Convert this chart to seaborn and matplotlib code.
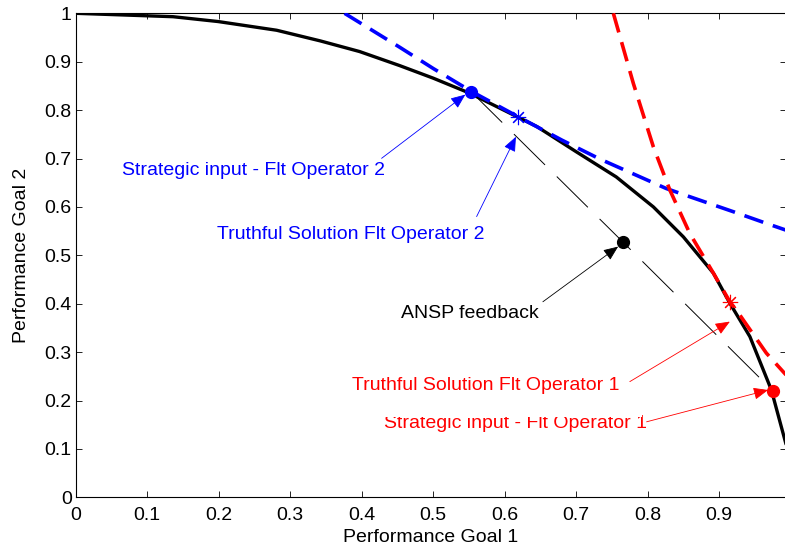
import numpy as np
import pandas as pd
import matplotlib
matplotlib.use("Agg")
import matplotlib.pyplot as plt
import seaborn as sns

# Pareto front of the two performance goals
front_x = [0.0, 0.136, 0.199, 0.281, 0.342, 0.397, 0.453, 0.500, 0.551, 0.645, 0.700,
           0.756, 0.808, 0.850, 0.892, 0.915, 0.943, 0.973, 0.9935]
front_y = [1.0, 0.993, 0.983, 0.965, 0.943, 0.921, 0.892, 0.866, 0.835, 0.766, 0.714,
           0.662, 0.600, 0.538, 0.463, 0.401, 0.332, 0.222, 0.110]

# Indifference curve of flight operator 2
op2_x = [0.376, 0.453, 0.500, 0.553, 0.618, 0.680, 0.733, 0.826, 0.859, 0.920, 0.966, 0.9935]
op2_y = [1.000, 0.930, 0.886, 0.839, 0.787, 0.738, 0.699, 0.638, 0.621, 0.590, 0.566, 0.552]

# Indifference curve of flight operator 1
op1_x = [0.752, 0.780, 0.808, 0.831, 0.859, 0.892, 0.915, 0.924, 0.966, 0.9935]
op1_y = [1.000, 0.855, 0.724, 0.635, 0.545, 0.463, 0.404, 0.387, 0.298, 0.253]

# Key solutions
strategic_op2 = (0.553, 0.838)
truthful_op2 = (0.618, 0.786)
ansp_feedback = (0.765, 0.528)
truthful_op1 = (0.915, 0.404)
strategic_op1 = (0.975, 0.220)

x_ticks = [0, 0.1, 0.2, 0.3, 0.4, 0.5, 0.6, 0.7, 0.8, 0.9]
y_ticks = [0, 0.1, 0.2, 0.3, 0.4, 0.5, 0.6, 0.7, 0.8, 0.9, 1.0]

sns.set_theme(style="ticks")
plt.rcParams["font.family"] = ["Liberation Sans", "DejaVu Sans"]

fig = plt.figure(figsize=(7.85, 5.5), dpi=100)
ax = fig.add_axes([0.09656, 0.0958, 0.9047, 0.88])

FS = 14

sns.lineplot(x=front_x, y=front_y, sort=False, color="black", lw=2.4, ax=ax, zorder=2)
sns.lineplot(x=op2_x, y=op2_y, sort=False, color="#0000ff", lw=2.6, ax=ax, zorder=3,
             linestyle=(0, (5.5, 2.8)))
sns.lineplot(x=op1_x, y=op1_y, sort=False, color="#ff0000", lw=2.6, ax=ax, zorder=3,
             linestyle=(0, (5.5, 2.8)))

# ANSP compromise line between the two strategic inputs
ax.plot([strategic_op2[0], ansp_feedback[0], strategic_op1[0]],
        [strategic_op2[1], ansp_feedback[1], strategic_op1[1]],
        color="black", lw=0.7, linestyle=(0, (45, 17)), zorder=1.5)

# Solution markers
ax.plot(*strategic_op2, marker="o", ms=8.5, color="#0000ff", zorder=5)
ax.plot(*truthful_op2, marker=(8, 2, 0), ms=11, mew=0.8, color="#0000ff", zorder=5)
ax.plot(*ansp_feedback, marker="o", ms=8.5, color="black", zorder=5)
ax.plot(*truthful_op1, marker=(8, 2, 0), ms=11, mew=0.8, color="#ff0000", zorder=5)
ax.plot(*strategic_op1, marker="o", ms=8.5, color="#ff0000", zorder=5)

ax.set_xlim(0, 0.9935)
ax.set_ylim(0, 1)
ax.set_xticks(x_ticks)
ax.set_yticks(y_ticks)
fmt = lambda v: "0" if v == 0 else ("1" if v == 1 else f"{v:g}")
ax.set_xticklabels([fmt(v) for v in x_ticks])
ax.set_yticklabels([fmt(v) for v in y_ticks])
ax.tick_params(direction="in", length=4.3, width=0.6, labelsize=FS, colors="black",
               top=True, right=True)
ax.tick_params(axis="x", pad=7)
ax.tick_params(axis="y", pad=3)
for s in ax.spines.values():
    s.set_linewidth(0.8)
    s.set_color("black")

ax.set_xlabel("Performance Goal 1", fontsize=FS, color="black")
ax.set_ylabel("Performance Goal 2", fontsize=FS, color="black")
ax.xaxis.set_label_coords(0.5, -0.0655)
ax.yaxis.set_label_coords(-0.064, 0.5)

arrow = lambda c: dict(arrowstyle="-|>,head_length=0.6,head_width=0.25", lw=0.6,
                       color=c, mutation_scale=15, shrinkA=0, shrinkB=0)

# Labels and pointers
ax.text(0.2483, 0.6748, "Strategic input - Flt Operator 2", color="#0000ff",
        fontsize=FS, ha="center", va="center", zorder=4)
ax.annotate("", xy=(0.545, 0.832), xytext=(0.4278, 0.7004), arrowprops=arrow("#0000ff"), zorder=6)

ax.text(0.197, 0.5420, "Truthful Solution Flt Operator 2", color="#0000ff",
        fontsize=FS, ha="left", va="center", zorder=4)
ax.annotate("", xy=(0.6157, 0.745), xytext=(0.5607, 0.580), arrowprops=arrow("#0000ff"), zorder=6)

ax.text(0.5513, 0.380, "ANSP feedback", color="black",
        fontsize=FS, ha="center", va="center", zorder=4)
ax.annotate("", xy=(0.7587, 0.518), xytext=(0.6534, 0.404), arrowprops=arrow("black"), zorder=6)

ax.text(0.6157, 0.1535, "Strategic input - Flt Operator 1", color="#ff0000",
        fontsize=FS, ha="center", va="center", zorder=3.5)
ax.text(0.573, 0.230, "Truthful Solution Flt Operator 1", color="#ff0000",
        fontsize=FS, ha="center", va="center", zorder=3.8,
        bbox=dict(boxstyle="square,pad=1.18", fc="white", ec="none"))
ax.annotate("", xy=(0.915, 0.363), xytext=(0.775, 0.239), arrowprops=arrow("#ff0000"), zorder=6)
ax.annotate("", xy=(0.9685, 0.2217), xytext=(0.7985, 0.156), arrowprops=arrow("#ff0000"), zorder=6)

fig.savefig("out.png", dpi=100)
